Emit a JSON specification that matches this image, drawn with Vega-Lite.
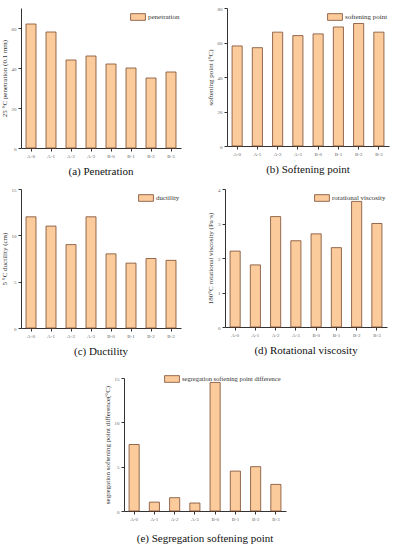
{
  "$schema": "https://vega.github.io/schema/vega-lite/v6.json",
  "padding": {"left": 0, "top": 6, "right": 2, "bottom": 2},
  "background": "white",
  "datasets": {
    "pen": [
      {"sample": "A-0", "value": 62}, {"sample": "A-1", "value": 58}, {"sample": "A-2", "value": 44}, {"sample": "A-3", "value": 46},
      {"sample": "B-0", "value": 42}, {"sample": "B-1", "value": 40}, {"sample": "B-2", "value": 35}, {"sample": "B-3", "value": 38}
    ],
    "soft": [
      {"sample": "A-0", "value": 58}, {"sample": "A-1", "value": 57}, {"sample": "A-2", "value": 66}, {"sample": "A-3", "value": 64},
      {"sample": "B-0", "value": 65}, {"sample": "B-1", "value": 69}, {"sample": "B-2", "value": 71}, {"sample": "B-3", "value": 66}
    ],
    "duct": [
      {"sample": "A-0", "value": 12}, {"sample": "A-1", "value": 11}, {"sample": "A-2", "value": 9}, {"sample": "A-3", "value": 12},
      {"sample": "B-0", "value": 8}, {"sample": "B-1", "value": 7}, {"sample": "B-2", "value": 7.5}, {"sample": "B-3", "value": 7.3}
    ],
    "visc": [
      {"sample": "A-0", "value": 2.2}, {"sample": "A-1", "value": 1.8}, {"sample": "A-2", "value": 3.2}, {"sample": "A-3", "value": 2.5},
      {"sample": "B-0", "value": 2.7}, {"sample": "B-1", "value": 2.3}, {"sample": "B-2", "value": 3.64}, {"sample": "B-3", "value": 3.0}
    ],
    "seg": [
      {"sample": "A-0", "value": 7.5}, {"sample": "A-1", "value": 1.0}, {"sample": "A-2", "value": 1.5}, {"sample": "A-3", "value": 0.9},
      {"sample": "B-0", "value": 14.5}, {"sample": "B-1", "value": 4.5}, {"sample": "B-2", "value": 5.0}, {"sample": "B-3", "value": 3.0}
    ]
  },
  "vconcat": [
    {
      "vconcat": [
        {
          "hconcat": [
            {
              "width": 160, "height": 140,
              "data": {"name": "pen"},
              "mark": {"type": "bar", "stroke": "#7B4A2E", "strokeWidth": 0.8},
              "encoding": {
                "x": {"field": "sample", "type": "nominal", "sort": null, "axis": {"title": null}},
                "y": {"field": "value", "type": "quantitative", "scale": {"domain": [0, 70], "nice": false}, "axis": {"values": [0, 20, 40, 60], "title": "25 °C penetration (0.1 mm)"}},
                "color": {"datum": "penetration", "type": "nominal", "scale": {"range": ["#FBCB9C"]}}
              },
              "title": {"text": "(a) Penetration", "font": "Liberation Serif"}
            },
            {
              "width": 162, "height": 138,
              "data": {"name": "soft"},
              "mark": {"type": "bar", "stroke": "#7B4A2E", "strokeWidth": 0.8},
              "encoding": {
                "x": {"field": "sample", "type": "nominal", "sort": null, "axis": {"title": null}},
                "y": {"field": "value", "type": "quantitative", "scale": {"domain": [0, 80], "nice": false}, "axis": {"values": [0, 20, 40, 60, 80], "title": "softening point (°C)"}},
                "color": {"datum": "softening point", "type": "nominal", "scale": {"range": ["#FBCB9C"]}}
              },
              "title": {"text": "(b) Softening point", "font": "Liberation Serif"}
            }
          ],
          "spacing": 25,
          "resolve": {"scale": {"color": "independent"}, "legend": {"color": "independent"}}
        },
        {
          "hconcat": [
            {
              "width": 160, "height": 139,
              "data": {"name": "duct"},
              "mark": {"type": "bar", "stroke": "#7B4A2E", "strokeWidth": 0.8},
              "encoding": {
                "x": {"field": "sample", "type": "nominal", "sort": null, "axis": {"title": null}},
                "y": {"field": "value", "type": "quantitative", "scale": {"domain": [0, 15], "nice": false}, "axis": {"values": [0, 5, 10, 15], "title": "5 °C ductility (cm)"}},
                "color": {"datum": "ductility", "type": "nominal", "scale": {"range": ["#FBCB9C"]}}
              },
              "title": {"text": "(c) Ductility", "font": "Liberation Serif"}
            },
            {
              "width": 162, "height": 138,
              "data": {"name": "visc"},
              "mark": {"type": "bar", "stroke": "#7B4A2E", "strokeWidth": 0.8},
              "encoding": {
                "x": {"field": "sample", "type": "nominal", "sort": null, "axis": {"title": null}},
                "y": {"field": "value", "type": "quantitative", "scale": {"domain": [0, 4], "nice": false}, "axis": {"values": [0, 1, 2, 3, 4], "title": "180°C rotational viscosity (Pa·s)"}},
                "color": {"datum": "rotational viscosity", "type": "nominal", "scale": {"range": ["#FBCB9C"]}}
              },
              "title": {"text": "(d) Rotational viscosity", "font": "Liberation Serif"}
            }
          ],
          "spacing": 25,
          "resolve": {"scale": {"color": "independent"}, "legend": {"color": "independent"}}
        }
      ],
      "spacing": 10,
      "resolve": {"scale": {"color": "independent"}, "legend": {"color": "independent"}}
    },
    {
      "width": 162, "height": 133,
      "data": {"name": "seg"},
      "mark": {"type": "bar", "stroke": "#7B4A2E", "strokeWidth": 0.8},
      "encoding": {
        "x": {"field": "sample", "type": "nominal", "sort": null, "axis": {"title": null}},
        "y": {"field": "value", "type": "quantitative", "scale": {"domain": [0, 15], "nice": false}, "axis": {"values": [0, 5, 10, 15], "title": "segregation softening point difference(°C)"}},
        "color": {"datum": "segregation softening point difference", "type": "nominal", "scale": {"range": ["#FBCB9C"]}, "legend": {"orient": "none", "legendX": 40, "legendY": -7, "labelFontSize": 6.5}}
      },
      "title": {"text": "(e) Segregation softening point", "font": "Liberation Serif", "offset": 12}
    }
  ],
  "spacing": 14,
  "center": true,
  "resolve": {"scale": {"color": "independent"}, "legend": {"color": "independent"}},
  "config": {
    "view": {"stroke": null},
    "scale": {"bandPaddingInner": 0.5, "bandPaddingOuter": 0.25},
    "axis": {
      "grid": false,
      "labelFont": "Liberation Serif", "labelFontSize": 5, "labelColor": "#666",
      "titleFont": "Liberation Serif", "titleFontSize": 7, "titleFontWeight": "normal", "titleColor": "#333",
      "domainColor": "#333", "tickColor": "#333", "tickSize": 3, "labelPadding": 2, "titlePadding": 4
    },
    "axisX": {"labelAngle": 0},
    "legend": {
      "orient": "top-right", "offset": 1, "title": null, "padding": 0,
      "symbolType": "M-1,-0.45H1V0.45H-1Z", "symbolSize": 220,
      "symbolStrokeColor": "#7B4A2E", "symbolStrokeWidth": 0.8, "symbolOpacity": 1,
      "labelFont": "Liberation Serif", "labelFontSize": 7, "labelColor": "#333", "labelOffset": 2
    },
    "title": {"orient": "bottom", "font": "Liberation Serif", "fontSize": 11, "fontWeight": "normal", "color": "#111", "offset": 8, "anchor": "middle"}
  }
}
